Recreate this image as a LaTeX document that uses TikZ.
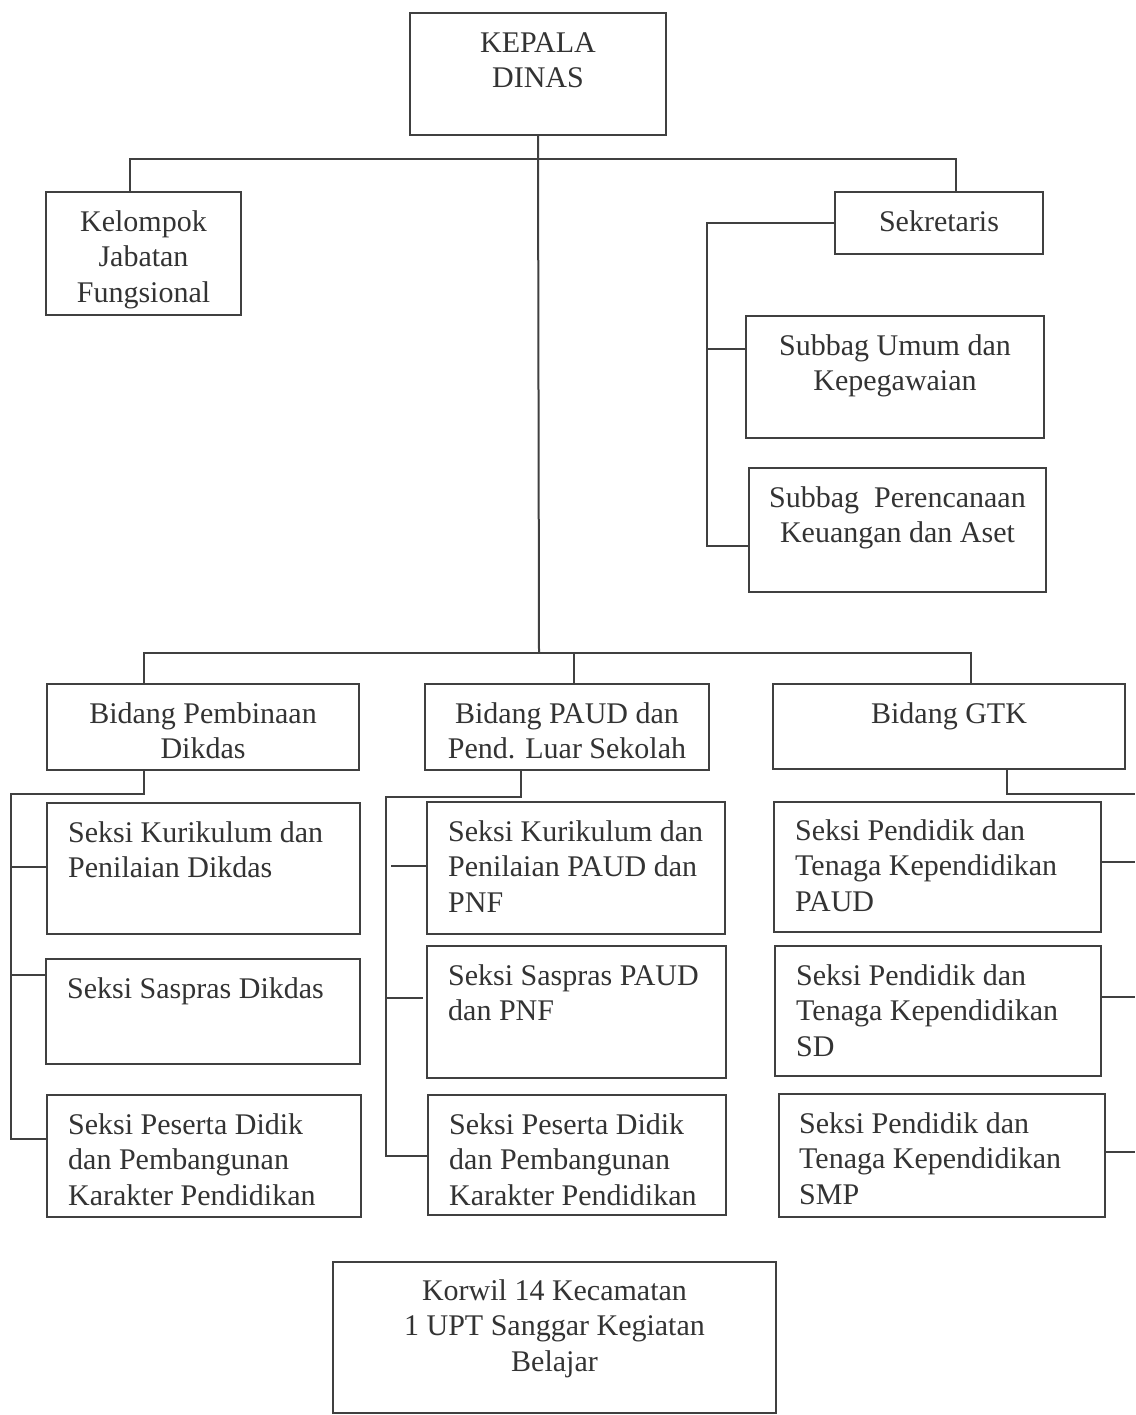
\documentclass[tikz,border=0pt]{standalone}
\usepackage{fontspec}
\setmainfont{Liberation Serif}
\usetikzlibrary{positioning}

\tikzset{
    box/.style={draw=black!75,line width=2pt,anchor=north west,inner sep=0pt,outer sep=0pt},
    txt/.style={inner sep=0pt,text=black!80,align=left,anchor=north west},
    ctxt/.style={inner sep=0pt,text=black!80,align=center,anchor=north},
    link/.style={draw=black!75,line width=2pt}
}

\begin{document}
\begin{tikzpicture}[x=1pt,y=-1pt,font=\fontsize{30pt}{35.5pt}\selectfont]
                \useasboundingbox (0,0) rectangle (1135,1415);
                % top level
                \node[box,minimum width=256,minimum height=122] (kepala) at (410,13) {};
                \node[box,minimum width=195,minimum height=123] (kelompok) at (46,192) {};
                \node[box,minimum width=208,minimum height=62] (sekretaris) at (835,192) {};
                \node[box,minimum width=298,minimum height=122] (umum) at (746,316) {};
                \node[box,minimum width=297,minimum height=124] (rencana) at (749,468) {};
                \node[ctxt] (kepala-t) at ([shift={(0,19)}]kepala.north) {KEPALA\\DINAS};
                \node[ctxt] (kelompok-t) at ([shift={(0,18)}]kelompok.north) {Kelompok\\Jabatan\\Fungsional};
                \node[ctxt] (sekretaris-t) at ([shift={(0,18)}]sekretaris.north) {Sekretaris};
                \node[ctxt] (umum-t) at ([shift={(0,18)}]umum.north) {Subbag Umum dan\\Kepegawaian};
                \node[ctxt] (rencana-t) at ([shift={(0,18)}]rencana.north) {Subbag\ \ Perencanaan\\Keuangan dan Aset};
                % bidang
                \node[box,minimum width=312,minimum height=86] (dikdas) at (47,684) {};
                \node[box,minimum width=284,minimum height=86] (paud) at (425,684) {};
                \node[box,minimum width=352,minimum height=85] (gtk) at (773,684) {};
                \node[ctxt] (dikdas-t) at ([shift={(0,18)}]dikdas.north) {Bidang Pembinaan\\Dikdas};
                \node[ctxt] (paud-t) at ([shift={(0,18)}]paud.north) {Bidang PAUD dan\\Pend. Luar Sekolah};
                \node[ctxt] (gtk-t) at ([shift={(0,18)}]gtk.north) {Bidang GTK};
                % seksi
                \node[box,minimum width=313,minimum height=131] (kurdik) at (47,803) {};
                \node[box,minimum width=314,minimum height=105] (sasdik) at (46,959) {};
                \node[box,minimum width=314,minimum height=122] (pesdik) at (47,1095) {};
                \node[box,minimum width=298,minimum height=132] (kurpaud) at (427,802) {};
                \node[box,minimum width=299,minimum height=132] (saspaud) at (427,946) {};
                \node[box,minimum width=298,minimum height=120] (pespaud) at (428,1095) {};
                \node[box,minimum width=327,minimum height=130] (ptkpaud) at (774,802) {};
                \node[box,minimum width=326,minimum height=130] (ptksd) at (775,946) {};
                \node[box,minimum width=326,minimum height=123] (ptksmp) at (779,1094) {};
                \node[txt] (kurdik-t) at ([shift={(21,18)}]kurdik.north west) {Seksi Kurikulum dan\\Penilaian Dikdas};
                \node[txt] (sasdik-t) at ([shift={(21,18)}]sasdik.north west) {Seksi Saspras Dikdas};
                \node[txt] (pesdik-t) at ([shift={(21,18)}]pesdik.north west) {Seksi Peserta Didik\\dan Pembangunan\\Karakter Pendidikan};
                \node[txt] (kurpaud-t) at ([shift={(21,18)}]kurpaud.north west) {Seksi Kurikulum dan\\Penilaian PAUD dan\\PNF};
                \node[txt] (saspaud-t) at ([shift={(21,18)}]saspaud.north west) {Seksi Saspras PAUD\\dan PNF};
                \node[txt] (pespaud-t) at ([shift={(21,18)}]pespaud.north west) {Seksi Peserta Didik\\dan Pembangunan\\Karakter Pendidikan};
                \node[txt] (ptkpaud-t) at ([shift={(21,17)}]ptkpaud.north west) {Seksi Pendidik dan\\Tenaga Kependidikan\\PAUD};
                \node[txt] (ptksd-t) at ([shift={(21,18)}]ptksd.north west) {Seksi Pendidik dan\\Tenaga Kependidikan\\SD};
                \node[txt] (ptksmp-t) at ([shift={(20,18)}]ptksmp.north west) {Seksi Pendidik dan\\Tenaga Kependidikan\\SMP};
                % korwil
                \node[box,minimum width=443,minimum height=151] (korwil) at (333,1262) {};
                \node[ctxt] (korwil-t) at ([shift={(0,17)}]korwil.north) {Korwil 14 Kecamatan\\1 UPT Sanggar Kegiatan\\Belajar};
                % connectors
                \coordinate (top) at (539,159);
                \coordinate (mid) at (539,653);
                \draw[link] (kepala.south) -- (mid);
                \draw[link] ([xshift=84pt]kelompok.north west) |- (top) -| ([xshift=121pt]sekretaris.north west);
                \coordinate (sek-bus) at (707,546);
                \coordinate (umum-in) at (707,349);
                \draw[link] (sekretaris.west) -| (sek-bus) -- (sek-bus -| rencana.west);
                \draw[link] (umum-in) -- (umum-in -| umum.west);
                \draw[link] ([xshift=97pt]dikdas.north west) |- (mid) -| ([xshift=198pt]gtk.north west);
                \draw[link] ([xshift=149pt]paud.north west) -- ([xshift=149pt]paud.north west |- mid);
                % dikdas
                \coordinate (dik-c) at (11,794);
                \coordinate (dik-bus) at (11,1139);
                \draw[link] ([xshift=97pt]dikdas.south west) |- (dik-c) -- (dik-bus) -- (dik-bus -| pesdik.west);
                \draw[link] (11,867) -- (kurdik.west |- 0,867);
                \draw[link] (11,975) -- (sasdik.west |- 0,975);
                % paud
                \coordinate (paud-c) at (386,797);
                \coordinate (paud-bus) at (386,1156);
                \draw[link] ([xshift=96pt]paud.south west) |- (paud-c) -- (paud-bus) -- (paud-bus -| pespaud.west);
                \draw[link] (391,866) -- (kurpaud.west |- 0,866);
                \draw[link] (386,998) -- (423,998);
                % gtk
                \coordinate (gtk-c) at (1135,794);
                \draw[link] ([xshift=234pt]gtk.south west) |- (gtk-c);
                \draw[link] (ptkpaud.east |- 0,862) -- (1135,862);
                \draw[link] (ptksd.east |- 0,997) -- (1135,997);
                \draw[link] (ptksmp.east |- 0,1152) -- (1135,1152);
\end{tikzpicture}
\end{document}
